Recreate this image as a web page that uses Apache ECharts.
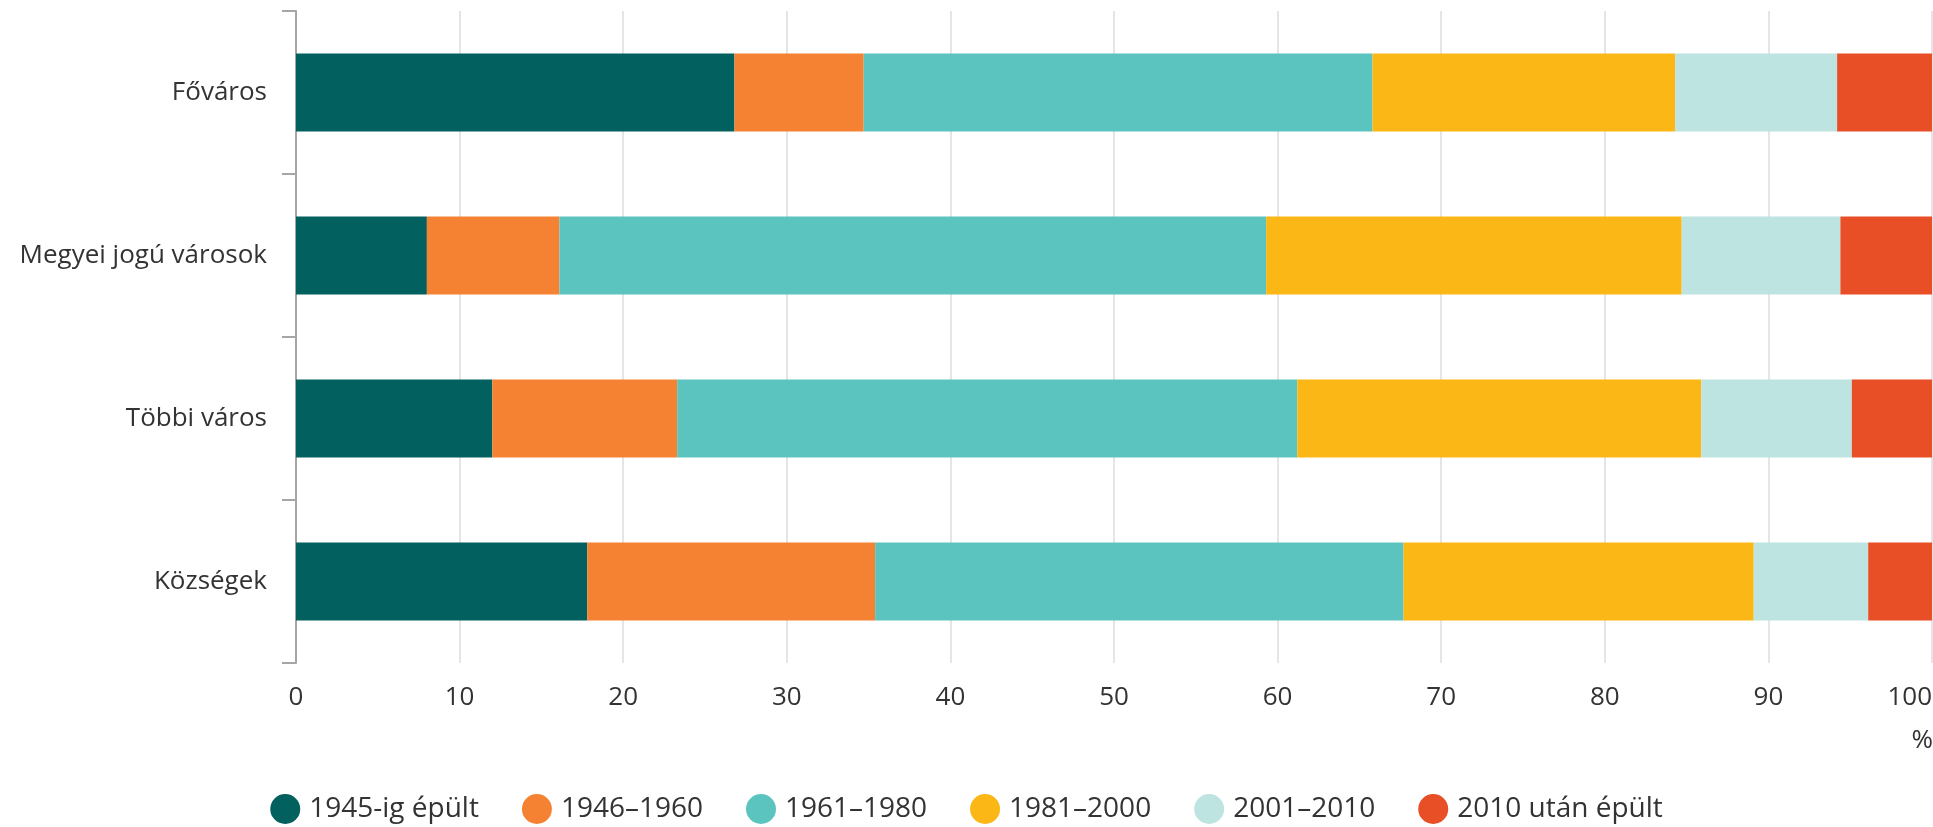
<!DOCTYPE html>
<html>
<head>
<meta charset="utf-8">
<script src="https://cdn.jsdelivr.net/npm/echarts@6/dist/echarts.min.js"></script>
<style>
  html, body { margin: 0; padding: 0; background: #fff; }
  #chart { width: 1933px; height: 827px; }
</style>
</head>
<body>
<div id="chart"></div>
<script>
// kategóriák (felülről lefelé)
const categories = ['Főváros', 'Megyei jogú városok', 'Többi város', 'Községek']

// építési időszakok szerinti megoszlás, %
const seriesNames = ['1945-ig épült', '1946–1960', '1961–1980', '1981–2000', '2001–2010', '2010 után épült']
const before1945 = [26.8, 8.0, 12.0, 17.8]
const y1946_1960 = [7.9, 8.1, 11.3, 17.6]
const y1961_1980 = [31.1, 43.2, 37.9, 32.3]
const y1981_2000 = [18.5, 25.4, 24.7, 21.4]
const y2001_2010 = [9.9, 9.7, 9.2, 7.0]
const after2010 = [5.8, 5.6, 4.9, 3.9]

const xTicks = [0, 10, 20, 30, 40, 50, 60, 70, 80, 90, 100]

const colors = ['#02605e', '#f58233', '#5cc4be', '#fbb715', '#bee4e1', '#e94f26']
const values = [before1945, y1946_1960, y1961_1980, y1981_2000, y2001_2010, after2010]

const font = '"Open Sans", sans-serif'
const textColor = '#333'

const myChart = echarts.init(document.getElementById('chart'))
myChart.setOption({
  animation: false,
  color: colors,
  grid: {
    left: 296,
    right: 1,
    top: 11,
    bottom: 164,
    containLabel: false,
    outerBoundsMode: 'none'
  },
  legend: {
    bottom: -2,
    left: 'center',
    icon: 'circle',
    itemWidth: 30,
    itemHeight: 30,
    itemGap: 43,
    textStyle: {
      fontFamily: font,
      fontSize: 28,
      color: textColor,
      padding: [0, 0, 0, 4]
    },
    data: seriesNames
  },
  graphic: [
    {
      type: 'text',
      right: 0,
      top: 728,
      style: {
        text: '%',
        font: '26px ' + font,
        fill: textColor
      }
    }
  ],
  xAxis: {
    type: 'value',
    min: xTicks[0],
    max: xTicks[xTicks.length - 1],
    interval: 10,
    axisLine: { show: false },
    axisTick: { show: false },
    splitLine: { lineStyle: { color: '#dcdcdc', width: 1.5 } },
    axisLabel: {
      margin: 22,
      fontFamily: font,
      fontSize: 26,
      color: textColor,
      showMaxLabel: true,
      alignMaxLabel: 'right'
    }
  },
  yAxis: {
    type: 'category',
    inverse: true,
    data: categories,
    axisLine: { show: true, lineStyle: { color: '#a6a6a6', width: 2 } },
    axisTick: { show: true, length: 14, lineStyle: { color: '#a6a6a6', width: 2 } },
    axisLabel: {
      margin: 29,
      fontFamily: font,
      fontSize: 26,
      color: textColor
    }
  },
  series: seriesNames.map((name, i) => ({
    name: name,
    type: 'bar',
    stack: 'total',
    barWidth: '48%',
    data: values[i]
  }))
})
</script>
</body>
</html>
